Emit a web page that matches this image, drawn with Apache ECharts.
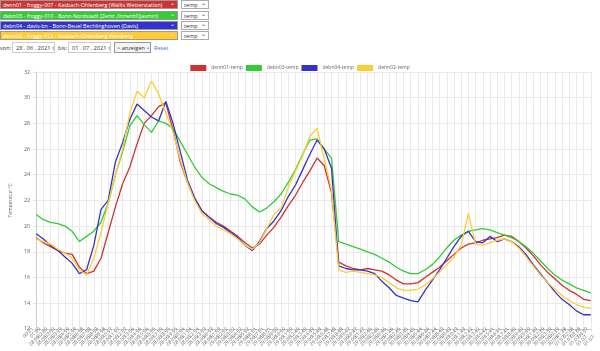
<!DOCTYPE html>
<html>
<head>
<meta charset="utf-8">
<script src="https://cdn.jsdelivr.net/npm/echarts@6/dist/echarts.min.js"></script>
<style>
  body { margin: 0; font-family: "Open Sans", sans-serif; background: #fff; }
  .row { position: absolute; left: 0; height: 9px; }
  .sel { position: absolute; left: 0; top: 0; width: 178px; height: 9px; box-sizing: border-box;
         color: #fff; font-size: 5.4px; line-height: 8px; padding-left: 2px; border: 1px solid #999; white-space: nowrap; overflow: hidden; }
  .sel:after { content: "\2304"; position: absolute; right: 2px; top: -2px; font-size: 6px; }
  .typ { position: absolute; left: 181px; top: 0; width: 28px; height: 9px; box-sizing: border-box; background: #fff;
         border: 1px solid #aaa; font-size: 5.6px; line-height: 8px; padding-left: 2px; color: #333; }
  .typ:after { content: "\2304"; position: absolute; right: 2px; top: -2px; font-size: 6px; }
  #dates { position: absolute; left: 0; top: 42px; height: 12px; font-size: 5.6px; color: #333; }
  .box { position: absolute; top: 0; height: 11px; box-sizing: border-box; border: 1px solid #ccc; background: #fff;
         font-size: 5.6px; line-height: 10px; padding-left: 3px; white-space: nowrap; overflow: hidden; }
  .ic { font-size: 5px; color: #666; }
  #chart { position: absolute; left: 0; top: 56px; width: 600px; height: 295px; }
</style>
</head>
<body>
<div class="row" style="top:0"><div class="sel" style="background:#cc3333">denn01 - froggy-007 - Kasbach-Ohlenberg (Wallis Wetterstation)</div><div class="typ">temp</div></div>
<div class="row" style="top:11px"><div class="sel" style="background:#33cc33">debn03 - froggy-010 - Bonn-Nordstadt (Zentr./innenhf/jasmin)</div><div class="typ">temp</div></div>
<div class="row" style="top:21px"><div class="sel" style="background:#3333cc">debn04 - davis-bn - Bonn-Beuel Bechlinghoven (Davis)</div><div class="typ">temp</div></div>
<div class="row" style="top:31px"><div class="sel" style="background:#ffcc33">denn02 - froggy-012 - Kasbach-Ohlenberg Weinberg</div><div class="typ">temp</div></div>
<div id="dates">
  <span style="position:absolute;left:0;top:2px">von:</span>
  <div class="box" style="left:12px;width:43px">28 . 06 . 2021 <span class="ic">&#9881;</span></div>
  <span style="position:absolute;left:58px;top:2px">bis:</span>
  <div class="box" style="left:68px;width:43px">01 . 07 . 2021 <span class="ic">&#9881;</span></div>
  <div class="box" style="left:114px;width:37px;background:#f4f4f4;border-color:#999;padding-left:2px">&gt; anzeigen &lt;</div>
  <span style="position:absolute;left:154px;top:2px;color:#3377cc">Reset</span>
</div>
<div id="chart"></div>
<script>
// series names
const seriesNames = ['denn01-temp', 'debn03-temp', 'debn04-temp', 'denn02-temp']
const colors = ['#cc3333', '#33cc33', '#3333cc', '#ffcc33']

// roughly hourly timestamps, 28.06.2021 00:01 .. 01.07.2021 04:37
const times = []
const start = new Date(2021, 5, 28, 0, 1).getTime()
for (let i = 0; i < 78; i++) {
  const d = new Date(start + i * 59.7 * 60000)
  const p = n => String(n).padStart(2, '0')
  times.push(p(d.getHours()) + ':' + p(d.getMinutes()) + '\n' + p(d.getDate()) + '.' + p(d.getMonth() + 1) + '.')
}

const denn01 = [19.1, 18.7, 18.4, 18.1, 17.9, 17.8, 16.8, 16.3, 16.5, 17.5,
  19.5, 21.5, 23.3, 24.6, 26.4, 28.0, 28.6, 29.3, 29.6, 27.5,
  25.0, 23.4, 22.1, 21.2, 20.7, 20.3, 20.0, 19.6, 19.2, 18.7,
  18.3, 18.6, 19.3, 19.9, 20.7, 21.6, 22.4, 23.4, 24.3, 25.3,
  24.7, 22.6, 17.2, 16.9, 16.7, 16.6, 16.7, 16.6, 16.5, 16.2,
  15.8, 15.5, 15.5, 15.6, 16.0, 16.4, 16.8, 17.3, 17.8, 18.3,
  18.6, 18.7, 18.9, 19.0, 19.1, 19.3, 19.2, 18.8, 18.3, 17.7,
  17.0, 16.4, 15.9, 15.4, 15.0, 14.7, 14.3, 14.2]
const debn03 = [20.9, 20.5, 20.3, 20.2, 20.0, 19.6, 18.8, 19.2, 19.6, 20.3,
  21.8, 24.0, 25.8, 27.8, 28.6, 27.9, 27.3, 28.2, 28.0, 27.6,
  26.6, 25.6, 24.6, 23.8, 23.3, 23.0, 22.7, 22.5, 22.4, 22.1,
  21.5, 21.1, 21.4, 21.9, 22.5, 23.4, 24.4, 25.6, 26.7, 26.8,
  26.0, 25.3, 18.8, 18.6, 18.4, 18.2, 18.0, 17.8, 17.5, 17.2,
  16.8, 16.5, 16.3, 16.3, 16.6, 17.0, 17.6, 18.3, 18.9, 19.3,
  19.6, 19.7, 19.8, 19.7, 19.5, 19.3, 19.1, 18.8, 18.4, 17.9,
  17.3, 16.7, 16.2, 15.8, 15.5, 15.2, 15.0, 14.8]
const debn04 = [19.4, 19.0, 18.5, 18.1, 17.6, 17.1, 16.3, 16.6, 18.5, 21.3,
  22.0, 25.0, 26.5, 28.3, 29.5, 29.0, 28.5, 28.2, 29.7, 28.0,
  25.8, 23.6, 22.2, 21.2, 20.7, 20.2, 19.9, 19.5, 19.1, 18.5,
  18.1, 18.8, 19.8, 20.4, 21.2, 22.3, 23.2, 24.4, 25.6, 26.7,
  26.0, 24.5, 16.9, 16.7, 16.6, 16.6, 16.5, 16.3, 15.7, 15.2,
  14.6, 14.4, 14.2, 14.1, 15.0, 15.8, 16.6, 17.5, 18.4, 19.2,
  19.6, 18.8, 18.7, 19.2, 18.8, 19.0, 18.8, 18.4, 17.8, 17.0,
  16.3, 15.6, 14.9, 14.3, 13.9, 13.4, 13.1, 13.1]
const denn02 = [19.0, 18.8, 18.6, 18.2, 17.9, 17.5, 16.6, 16.2, 17.5, 19.5,
  21.8, 24.0, 26.0, 28.8, 30.5, 30.0, 31.3, 30.3, 28.8, 27.3,
  25.2, 23.4, 22.0, 21.0, 20.5, 20.0, 19.7, 19.4, 19.0, 18.5,
  18.2, 18.7, 19.8, 20.9, 21.4, 23.0, 24.3, 25.5, 27.0, 27.6,
  25.2, 22.8, 16.6, 16.4, 16.5, 16.4, 16.3, 16.2, 16.0, 15.6,
  15.2, 15.0, 15.0, 15.1, 15.4, 15.9, 16.4, 17.0, 17.6, 18.5,
  21.0, 18.6, 18.5, 18.7, 18.9, 19.0, 18.8, 18.3, 17.6, 16.9,
  16.2, 15.6, 15.1, 14.6, 14.2, 13.9, 13.7, 13.6]

const yTicks = { min: 12, max: 32, step: 2 }

const chart = echarts.init(document.getElementById('chart'))
const allData = [denn01, debn03, debn04, denn02]

chart.setOption({
  animation: false,
  legend: {
    top: 4,
    left: 'center',
    itemWidth: 16,
    itemHeight: 6,
    itemGap: 3,
    icon: 'rect',
    textStyle: { fontSize: 5, color: '#666', fontFamily: 'Open Sans' },
    data: seriesNames
  },
  grid: { left: 22, right: 3, top: 16, bottom: 18 },
  xAxis: {
    type: 'category',
    data: times,
    boundaryGap: false,
    axisLine: { lineStyle: { color: '#ccc' } },
    axisTick: { show: true, interval: 0, length: 3, lineStyle: { color: '#ddd' } },
    splitLine: { show: true, interval: 0, lineStyle: { color: '#eaeaea', width: 1 } },
    axisLabel: {
      interval: 0, rotate: 45, fontSize: 5, color: '#666', margin: 3,
      fontFamily: 'Open Sans', lineHeight: 10
    }
  },
  yAxis: {
    type: 'value',
    min: yTicks.min,
    max: yTicks.max,
    interval: yTicks.step,
    name: 'Temperatur °C',
    nameLocation: 'middle',
    nameGap: 15,
    nameTextStyle: { fontSize: 5, color: '#666', fontFamily: 'Open Sans' },
    axisLine: { show: true, lineStyle: { color: '#ccc' } },
    axisTick: { show: true, length: 3, lineStyle: { color: '#ddd' } },
    splitLine: { lineStyle: { color: '#eaeaea' } },
    axisLabel: { fontSize: 5.5, color: '#666', margin: 6, fontFamily: 'Open Sans' }
  },
  series: seriesNames.map((name, k) => ({
    name: name,
    type: 'line',
    data: allData[k],
    showSymbol: false,
    color: colors[k],
    lineStyle: { width: 1.3 }
  }))
})
</script>
</body>
</html>
